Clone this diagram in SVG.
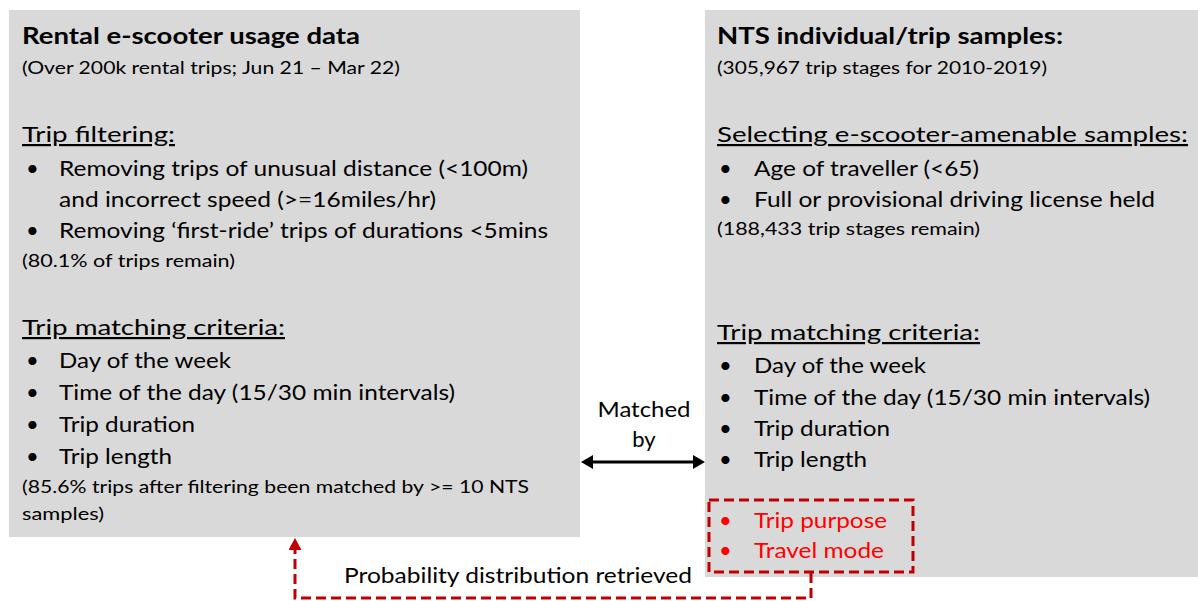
<svg xmlns="http://www.w3.org/2000/svg" width="1198" height="601" viewBox="0 0 1198 601">
  <style>
    text { font-family: Lato, "Open Sans", "Liberation Sans", sans-serif; fill: #000; }
    .title { font-size: 22px; font-weight: bold; }
    .body { font-size: 22px; }
    .note { font-size: 16.5px; }
    .head { font-size: 22px; text-decoration: underline; }
    .red { fill: #FF0000; }
    .panel { fill: #D9D9D9; }
    .dash { fill: none; stroke: #C00000; stroke-width: 3; stroke-dasharray: 10 5; }
  </style>
  <defs>
    <marker id="blackHead" viewBox="0 0 12 14" markerUnits="userSpaceOnUse" markerWidth="12" markerHeight="14" refX="8" refY="7" orient="auto-start-reverse">
      <path d="M0,0 L12,7 L0,14 z" fill="#000"/>
    </marker>
    <marker id="redHead" viewBox="0 0 12 13" markerUnits="userSpaceOnUse" markerWidth="12" markerHeight="13" refX="8" refY="6.5" orient="auto">
      <path d="M0,0 L12,6.5 L0,13 z" fill="#C00000"/>
    </marker>
  </defs>

  <rect width="1198" height="601" fill="#fff"/>

  <!-- Rental e-scooter data panel -->
  <g id="rental-data">
    <rect class="panel" x="9" y="10" width="571" height="527"/>
    <text class="title" x="22" y="44" textLength="338" lengthAdjust="spacingAndGlyphs">Rental e-scooter usage data</text>
    <text class="note" x="22" y="74" textLength="378" lengthAdjust="spacingAndGlyphs">(Over 200k rental trips; Jun 21 – Mar 22)</text>
    <text class="head" x="22" y="142" textLength="153" lengthAdjust="spacingAndGlyphs">Trip filtering:</text>
    <text class="body" x="26" y="176">•</text>
    <text class="body" x="59" y="176" textLength="469" lengthAdjust="spacingAndGlyphs">Removing trips of unusual distance (&lt;100m)</text>
    <text class="body" x="59" y="207" textLength="377" lengthAdjust="spacingAndGlyphs">and incorrect speed (&gt;=16miles/hr)</text>
    <text class="body" x="26" y="238">•</text>
    <text class="body" x="59" y="238" textLength="489" lengthAdjust="spacingAndGlyphs">Removing ‘first-ride’ trips of durations &lt;5mins</text>
    <text class="note" x="22" y="267" textLength="213" lengthAdjust="spacingAndGlyphs">(80.1% of trips remain)</text>
    <text class="head" x="22" y="335" textLength="263" lengthAdjust="spacingAndGlyphs">Trip matching criteria:</text>
    <text class="body" x="26" y="368">•</text>
    <text class="body" x="59" y="368" textLength="172" lengthAdjust="spacingAndGlyphs">Day of the week</text>
    <text class="body" x="26" y="400">•</text>
    <text class="body" x="59" y="400" textLength="396" lengthAdjust="spacingAndGlyphs">Time of the day (15/30 min intervals)</text>
    <text class="body" x="26" y="432">•</text>
    <text class="body" x="59" y="432" textLength="136" lengthAdjust="spacingAndGlyphs">Trip duration</text>
    <text class="body" x="26" y="464">•</text>
    <text class="body" x="59" y="464" textLength="113" lengthAdjust="spacingAndGlyphs">Trip length</text>
    <text class="note" x="22" y="493" textLength="507" lengthAdjust="spacingAndGlyphs">(85.6% trips after filtering been matched by &gt;= 10 NTS</text>
    <text class="note" x="22" y="520" textLength="82" lengthAdjust="spacingAndGlyphs">samples)</text>
  </g>

  <!-- NTS samples panel -->
  <g id="nts-samples">
    <rect class="panel" x="705" y="10" width="493" height="567"/>
    <text class="title" x="717" y="44" textLength="346" lengthAdjust="spacingAndGlyphs">NTS individual/trip samples:</text>
    <text class="note" x="717" y="74" textLength="330" lengthAdjust="spacingAndGlyphs">(305,967 trip stages for 2010-2019)</text>
    <text class="head" x="717" y="142" textLength="471" lengthAdjust="spacingAndGlyphs">Selecting e-scooter-amenable samples:</text>
    <text class="body" x="719" y="176">•</text>
    <text class="body" x="754" y="176" textLength="225" lengthAdjust="spacingAndGlyphs">Age of traveller (&lt;65)</text>
    <text class="body" x="719" y="207">•</text>
    <text class="body" x="754" y="207" textLength="401" lengthAdjust="spacingAndGlyphs">Full or provisional driving license held</text>
    <text class="note" x="717" y="235" textLength="263" lengthAdjust="spacingAndGlyphs">(188,433 trip stages remain)</text>
    <text class="head" x="717" y="340" textLength="263" lengthAdjust="spacingAndGlyphs">Trip matching criteria:</text>
    <text class="body" x="719" y="373">•</text>
    <text class="body" x="754" y="373" textLength="172" lengthAdjust="spacingAndGlyphs">Day of the week</text>
    <text class="body" x="719" y="405">•</text>
    <text class="body" x="754" y="405" textLength="396" lengthAdjust="spacingAndGlyphs">Time of the day (15/30 min intervals)</text>
    <text class="body" x="719" y="436">•</text>
    <text class="body" x="754" y="436" textLength="136" lengthAdjust="spacingAndGlyphs">Trip duration</text>
    <text class="body" x="719" y="467">•</text>
    <text class="body" x="754" y="467" textLength="113" lengthAdjust="spacingAndGlyphs">Trip length</text>
  </g>

  <!-- Retrieved attributes (dashed red box) -->
  <g id="retrieved-attributes">
    <rect class="dash" x="709" y="500" width="204" height="72"/>
    <text class="body red" x="719" y="528">•</text>
    <text class="body red" x="754" y="528" textLength="133" lengthAdjust="spacingAndGlyphs">Trip purpose</text>
    <text class="body red" x="719" y="558">•</text>
    <text class="body red" x="754" y="558" textLength="130" lengthAdjust="spacingAndGlyphs">Travel mode</text>
  </g>

  <!-- Connectors -->
  <g id="connectors">
    <line x1="585" y1="462" x2="701" y2="462" stroke="#000" stroke-width="3" marker-start="url(#blackHead)" marker-end="url(#blackHead)"/>
    <path class="dash" d="M811,573 V598 H295 V542" marker-end="url(#redHead)"/>
  </g>

  <!-- Connector labels -->
  <g id="connector-labels">
    <text class="body" x="644" y="417" text-anchor="middle" textLength="93" lengthAdjust="spacingAndGlyphs">Matched</text>
    <text class="body" x="644" y="447" text-anchor="middle">by</text>
    <text class="body" x="344" y="583" textLength="348" lengthAdjust="spacingAndGlyphs">Probability distribution retrieved</text>
  </g>
</svg>
